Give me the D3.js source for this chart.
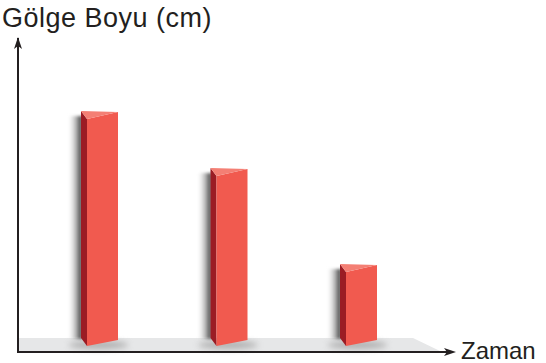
<!DOCTYPE html>
<html>
<head>
<meta charset="utf-8">
<script src="https://cdn.jsdelivr.net/npm/d3@7"></script>
<style>
  body { margin: 0; background: #fff; }
  svg { display: block; font-family: "Liberation Sans", Arial, sans-serif; }
</style>
</head>
<body>
<svg id="chart" width="546" height="363"></svg>
<script>
// data
const times = ['Sabah', 'Öğle öncesi', 'Öğle']
const shadowLengths = [7.7, 5.8, 2.6]
const yLabel = 'Gölge Boyu (cm)'
const xLabel = 'Zaman'

const svg = d3.select('#chart')
const axisColor = '#231f20'
const frontColor = '#f15a4f'
const sideColor = '#9b1c24'
const topColor = '#f47f74'

const originX = 18
const axisY = 352
const base = 343
const barW = 31
const sideW = 6

const xScale = d3.scalePoint()
  .domain(times)
  .range([87, 346])

const yScale = d3.scaleLinear()
  .domain([0, 10])
  .range([base, 43])

const defs = svg.append('defs')

const shGrad = defs.append('linearGradient')
  .attr('id', 'sideShadow')
  .attr('x1', '0').attr('x2', '1').attr('y1', '0').attr('y2', '0')
shGrad.append('stop').attr('offset', '0%').attr('stop-color', '#fff').attr('stop-opacity', 0)
shGrad.append('stop').attr('offset', '100%').attr('stop-color', '#2a2a2a').attr('stop-opacity', 1)

defs.append('filter').attr('id', 'blur')
  .attr('x', '-50%').attr('y', '-50%').attr('width', '200%').attr('height', '200%')
  .append('feGaussianBlur').attr('stdDeviation', 1.5)

defs.append('filter').attr('id', 'blur2')
  .attr('x', '-50%').attr('y', '-100%').attr('width', '200%').attr('height', '300%')
  .append('feGaussianBlur').attr('stdDeviation', 3)

// floor
svg.append('path')
  .attr('d', `M${originX},338 L413,338 L440,351 L${originX},351 Z`)
  .attr('fill', '#e6e7e8')

// floor shadows under bars
svg.selectAll('ellipse.floorShadow')
  .data(times)
  .enter()
  .append('ellipse')
    .attr('class', 'floorShadow')
    .attr('cx', d => xScale(d) + barW / 2 - 4)
    .attr('cy', 345)
    .attr('rx', 30)
    .attr('ry', 4)
    .attr('fill', '#888')
    .attr('opacity', 0.6)
    .attr('filter', 'url(#blur2)')

const bars = svg.selectAll('g.bar')
  .data(shadowLengths)
  .enter()
  .append('g')
    .attr('class', 'bar')

// soft shadow on the left
bars.append('rect')
  .attr('x', (d, i) => xScale(times[i]) - sideW - 14)
  .attr('y', d => yScale(d) + 4)
  .attr('width', 15)
  .attr('height', d => base - yScale(d) - 8)
  .attr('fill', 'url(#sideShadow)')
  .attr('filter', 'url(#blur)')

// side face
bars.append('path')
  .attr('d', (d, i) => {
    const x = xScale(times[i]), y = yScale(d)
    return `M${x - sideW},${y - 1} L${x},${y + 7} L${x},${base + 3} L${x - sideW},${base - 5} Z`
  })
  .attr('fill', sideColor)

// front face
bars.append('path')
  .attr('d', (d, i) => {
    const x = xScale(times[i]), y = yScale(d)
    return `M${x},${y + 7} L${x + barW},${y} L${x + barW},${base - 3} L${x},${base + 3} Z`
  })
  .attr('fill', frontColor)

// top face
bars.append('path')
  .attr('d', (d, i) => {
    const x = xScale(times[i]), y = yScale(d)
    return `M${x - sideW},${y - 1} L${x + barW},${y} L${x},${y + 7} Z`
  })
  .attr('fill', topColor)

// axes
svg.append('line')
  .attr('x1', originX).attr('y1', axisY)
  .attr('x2', originX).attr('y2', 38)
  .attr('stroke', axisColor).attr('stroke-width', 2)

svg.append('path')
  .attr('d', `M${originX},37 L${originX - 4},49 L${originX},46 L${originX + 4},49 Z`)
  .attr('fill', axisColor)

svg.append('line')
  .attr('x1', originX - 1).attr('y1', axisY)
  .attr('x2', 452).attr('y2', axisY)
  .attr('stroke', axisColor).attr('stroke-width', 2)

svg.append('path')
  .attr('d', `M456,${axisY} L444,${axisY - 4} L447,${axisY} L444,${axisY + 4} Z`)
  .attr('fill', axisColor)

// labels
svg.append('text')
  .attr('x', 2).attr('y', 27)
  .attr('font-size', '27px')
  .attr('letter-spacing', '0.5px')
  .attr('fill', axisColor)
  .text(yLabel)

svg.append('text')
  .attr('x', 461).attr('y', 359)
  .attr('font-size', '24px')
  .attr('fill', axisColor)
  .text(xLabel)
</script>
</body>
</html>
